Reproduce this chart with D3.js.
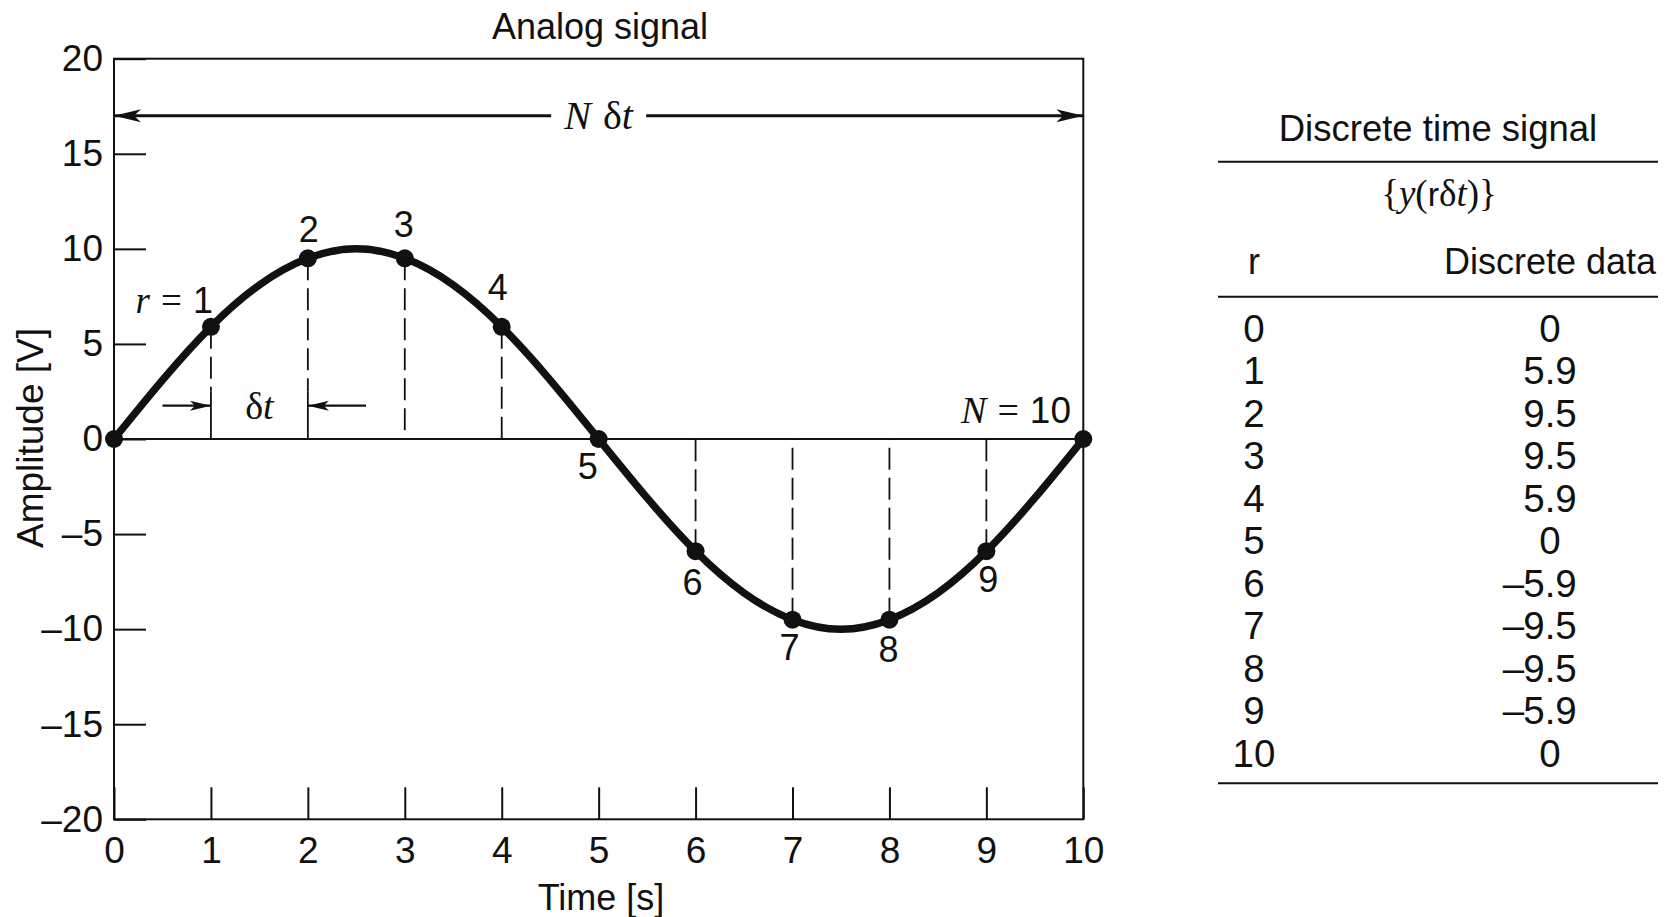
<!DOCTYPE html>
<html><head><meta charset="utf-8">
<script src="https://cdn.jsdelivr.net/npm/d3@7"></script>
<style>body{margin:0;background:#fff}svg{display:block}</style>
</head><body>
<svg id="c" width="1666" height="917"></svg>
<script>
// ---------- data ----------
const xTickValues = [0,1,2,3,4,5,6,7,8,9,10];
const yTickValues = [-20,-15,-10,-5,0,5,10,15,20];
const sampleR = [0,1,2,3,4,5,6,7,8,9,10];
const sampleV = [0,5.9,9.5,9.5,5.9,0,-5.9,-9.5,-9.5,-5.9,0];
const analogT = [0,0.5,1,1.5,2,2.5,3,3.5,4,4.5,5,5.5,6,6.5,7,7.5,8,8.5,9,9.5,10];
const analogV = [0,3.1,5.9,8.1,9.5,10,9.5,8.1,5.9,3.1,0,-3.1,-5.9,-8.1,-9.5,-10,-9.5,-8.1,-5.9,-3.1,0];
const tableR = ["0","1","2","3","4","5","6","7","8","9","10"];
const tableData = [0,5.9,9.5,9.5,5.9,0,-5.9,-9.5,-9.5,-5.9,0];

// ---------- setup ----------
const SANS = "Liberation Sans";
const SERIF = "Liberation Serif";
const INK = "#111";
const svg = d3.select("#c");
const x = d3.scaleLinear().domain([0,10]).range([114,1083.3]);
const y = d3.scaleLinear().domain([-20,20]).range([819.3,58.7]);

const defs = svg.append("defs");
function marker(id, len, half, notch){
  defs.append("marker").attr("id",id)
    .attr("markerUnits","userSpaceOnUse")
    .attr("viewBox",`${-len-2} ${-half-2} ${len+4} ${2*half+4}`)
    .attr("markerWidth",len+4).attr("markerHeight",2*half+4)
    .attr("refX",0).attr("refY",0)
    .attr("orient","auto-start-reverse")
    .append("path")
    .attr("d",`M0,0 L${-len},${-half} L${-len+notch},0 L${-len},${half} Z`)
    .attr("fill",INK);
}
marker("bigArrow",27,6.5,7);
marker("smallArrow",21,5,5);

// ---------- frame ----------
svg.append("rect")
  .attr("x",x(0)).attr("y",y(20))
  .attr("width",x(10)-x(0)).attr("height",y(-20)-y(20))
  .attr("fill","none").attr("stroke",INK).attr("stroke-width",2);

// axes
const yAxis = d3.axisLeft(y).tickValues(yTickValues).tickSize(-32).tickPadding(11)
  .tickFormat(d => d<0 ? "\u2013"+(-d) : String(d));
const gy = svg.append("g").attr("transform",`translate(${x(0)},0)`).call(yAxis)
  .attr("font-family",SANS).attr("font-size",37).style("color",INK);
gy.select(".domain").remove();
gy.selectAll(".tick line").attr("stroke-width",2);

const xAxis = d3.axisBottom(x).tickValues(xTickValues).tickSize(-32).tickPadding(17);
const gx = svg.append("g").attr("transform",`translate(0,${y(-20)})`).call(xAxis)
  .attr("font-family",SANS).attr("font-size",37).style("color",INK);
gx.select(".domain").remove();
gx.selectAll(".tick line").attr("stroke-width",2);

// zero line
svg.append("line").attr("x1",x(0)).attr("x2",x(10)).attr("y1",y(0)).attr("y2",y(0))
  .attr("stroke",INK).attr("stroke-width",2);

// axis titles
svg.append("text").attr("x",600).attr("y",39).attr("text-anchor","middle")
  .attr("font-family",SANS).attr("font-size",36).attr("fill",INK).text("Analog signal");
svg.append("text").attr("x",601).attr("y",910).attr("text-anchor","middle")
  .attr("font-family",SANS).attr("font-size",36).attr("fill",INK).text("Time [s]");
svg.append("text").attr("transform","translate(43,438) rotate(-90)").attr("text-anchor","middle")
  .attr("font-family",SANS).attr("font-size",37).attr("fill",INK).text("Amplitude [V]");

// ---------- dashed drop lines ----------
const arrowV = 1.75;
const samples = sampleR.map((r,i)=>({r, v:sampleV[i]}));
const drops = samples.filter(d => d.v !== 0);
svg.append("g").selectAll("line").data(drops).join("line")
  .attr("x1",d=>x(d.r)).attr("x2",d=>x(d.r))
  .attr("y1",d=>y(d.v))
  .attr("y2",d=> (d.r===1||d.r===2) ? y(arrowV)-14 : y(0))
  .attr("stroke",INK).attr("stroke-width",1.8).attr("stroke-dasharray","22,8");
svg.append("g").selectAll("line").data(drops.filter(d=>d.r===1||d.r===2)).join("line")
  .attr("x1",d=>x(d.r)).attr("x2",d=>x(d.r))
  .attr("y1",y(arrowV)-14).attr("y2",y(0))
  .attr("stroke",INK).attr("stroke-width",1.8);

// ---------- dt annotation ----------
svg.append("line").attr("x1",x(0.5)).attr("x2",x(1)).attr("y1",y(arrowV)).attr("y2",y(arrowV))
  .attr("stroke",INK).attr("stroke-width",2.2).attr("marker-end","url(#smallArrow)");
svg.append("line").attr("x1",x(2.6)).attr("x2",x(2)).attr("y1",y(arrowV)).attr("y2",y(arrowV))
  .attr("stroke",INK).attr("stroke-width",2.2).attr("marker-end","url(#smallArrow)");
const dtT = svg.append("text").attr("x",x(1.5)).attr("y",y(1.05)).attr("text-anchor","middle")
  .attr("font-family",SERIF).attr("font-size",38).attr("fill",INK);
dtT.append("tspan").text("\u03b4");
dtT.append("tspan").attr("font-style","italic").text("t");

// ---------- N dt arrow ----------
const nV = 17;
svg.append("line").attr("x1",x(0)).attr("x2",x(4.51)).attr("y1",y(nV)).attr("y2",y(nV))
  .attr("stroke",INK).attr("stroke-width",3).attr("marker-start","url(#bigArrow)");
svg.append("line").attr("x1",x(5.49)).attr("x2",x(10)).attr("y1",y(nV)).attr("y2",y(nV))
  .attr("stroke",INK).attr("stroke-width",3).attr("marker-end","url(#bigArrow)");
const ndt = svg.append("text").attr("x",x(5)).attr("y",y(16.3)).attr("text-anchor","middle")
  .attr("font-family",SERIF).attr("font-size",40).attr("fill",INK);
ndt.append("tspan").attr("font-style","italic").text("N");
ndt.append("tspan").attr("dx",12).text("\u03b4");
ndt.append("tspan").attr("font-style","italic").text("t");

// ---------- analog curve ----------
const line = d3.line().x((d,i)=>x(analogT[i])).y(d=>y(d)).curve(d3.curveNatural);
svg.append("path").attr("d",line(analogV)).attr("fill","none")
  .attr("stroke",INK).attr("stroke-width",7.5).attr("stroke-linecap","round");

// dots
svg.append("g").selectAll("circle").data(samples).join("circle")
  .attr("cx",d=>x(d.r)).attr("cy",d=>y(d.v)).attr("r",9).attr("fill",INK);

// ---------- point labels ----------
const labelOffsets = {2:[1,-16],3:[-1,-21],4:[-4,-27],5:[-11,40],6:[-3,44],7:[-3,40],8:[-1,42],9:[2,41]};
svg.append("g").selectAll("text").data(samples.filter(d=>labelOffsets[d.r])).join("text")
  .attr("x",d=>x(d.r)+labelOffsets[d.r][0]).attr("y",d=>y(d.v)+labelOffsets[d.r][1])
  .attr("text-anchor","middle").attr("font-family",SANS).attr("font-size",36).attr("fill",INK)
  .text(d=>d.r);

const r1 = svg.append("text").attr("x",x(1)+2).attr("y",y(sampleV[1])-14).attr("text-anchor","end")
  .attr("font-size",37).attr("fill",INK);
r1.append("tspan").attr("font-family",SERIF).attr("font-style","italic").text("r");
r1.append("tspan").attr("font-family",SERIF).attr("dx",11).text("=");
r1.append("tspan").attr("font-family",SANS).attr("font-size",36).attr("dx",11).text("1");

const n10 = svg.append("text").attr("x",1071).attr("y",y(0)-16).attr("text-anchor","end")
  .attr("font-size",38).attr("fill",INK);
n10.append("tspan").attr("font-family",SERIF).attr("font-style","italic").text("N");
n10.append("tspan").attr("font-family",SERIF).attr("dx",11).text("=");
n10.append("tspan").attr("font-family",SANS).attr("font-size",37).attr("dx",11).text("10");

// ---------- table ----------
const tx0 = 1218, tx1 = 1658;
const rules = [161.7, 296.7, 783.3];
svg.append("g").selectAll("line").data(rules).join("line")
  .attr("x1",tx0).attr("x2",tx1).attr("y1",d=>d).attr("y2",d=>d)
  .attr("stroke",INK).attr("stroke-width",2);
svg.append("text").attr("x",1438).attr("y",141).attr("text-anchor","middle")
  .attr("font-family",SANS).attr("font-size",36.5).attr("fill",INK).text("Discrete time signal");
const ys = svg.append("text").attr("x",1439).attr("y",206).attr("text-anchor","middle")
  .attr("font-family",SERIF).attr("font-size",37).attr("fill",INK);
ys.append("tspan").text("{");
ys.append("tspan").attr("font-style","italic").text("y");
ys.append("tspan").text("(");
ys.append("tspan").attr("font-family",SANS).attr("font-size",34).text("r");
ys.append("tspan").text("\u03b4");
ys.append("tspan").attr("font-style","italic").text("t");
ys.append("tspan").text(")}");
svg.append("text").attr("x",1254).attr("y",274).attr("text-anchor","middle")
  .attr("font-family",SANS).attr("font-size",36).attr("fill",INK).text("r");
svg.append("text").attr("x",1656).attr("y",274).attr("text-anchor","end")
  .attr("font-family",SANS).attr("font-size",36).attr("fill",INK).text("Discrete data");

const rowY = d3.scalePoint().domain(tableR).range([341.7,766.7]);
const fmt = v => v===0 ? "0" : d3.format(".1f")(Math.abs(v));
const rows = tableR.map((r,i)=>({r, v:tableData[i]}));
const tg = svg.append("g").attr("font-family",SANS).attr("font-size",38.5).attr("fill",INK);
tg.selectAll("text.rc").data(rows).join("text").attr("class","rc")
  .attr("x",1254).attr("y",d=>rowY(d.r)).attr("text-anchor","middle").text(d=>d.r);
const vt = tg.selectAll("text.vc").data(rows).join("text").attr("class","vc")
  .attr("x",1550).attr("y",d=>rowY(d.r)).attr("text-anchor","middle").text(d=>fmt(d.v));
vt.each(function(d){
  if(d.v<0){
    const w = this.getComputedTextLength();
    tg.append("text").attr("x",1550-w/2+1).attr("y",rowY(d.r)).attr("text-anchor","end").text("\u2013");
  }
});
</script>
</body></html>
